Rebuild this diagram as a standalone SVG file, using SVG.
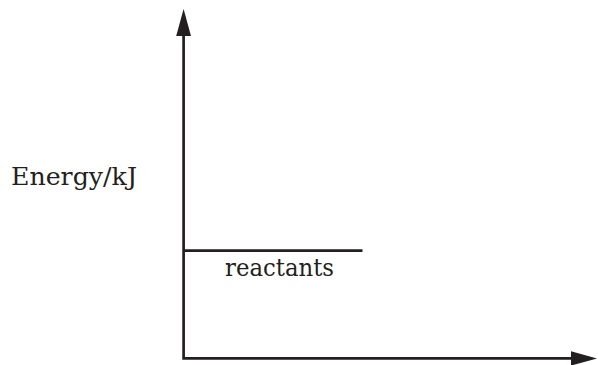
<svg xmlns="http://www.w3.org/2000/svg" width="598" height="365" viewBox="0 0 598 365">
<style>
.ax{stroke:#231f20;stroke-width:2.7;fill:none}
.ah{fill:#231f20}
.t{font-family:"DejaVu Serif","Liberation Serif",serif;font-size:24px;fill:#231f20}
</style>
<rect width="598" height="365" fill="#fff"/>
<g id="connectors">
<path class="ax" d="M183.6 30 V358.4 H578"/>
<polygon class="ah" points="183.6,9 191,36 176.2,36"/>
<polygon class="ah" points="597,358.4 571,351.2 571,365.6"/>
</g>
<g id="reactants">
<line class="ax" x1="183.6" y1="250.7" x2="362.5" y2="250.7" stroke-width="2.5"/>
<text class="t" x="225" y="275.5" textLength="109" lengthAdjust="spacingAndGlyphs">reactants</text>
</g>
<g id="ylabel">
<text class="t" x="11" y="185" textLength="126" lengthAdjust="spacingAndGlyphs">Energy/kJ</text>
</g>
</svg>
